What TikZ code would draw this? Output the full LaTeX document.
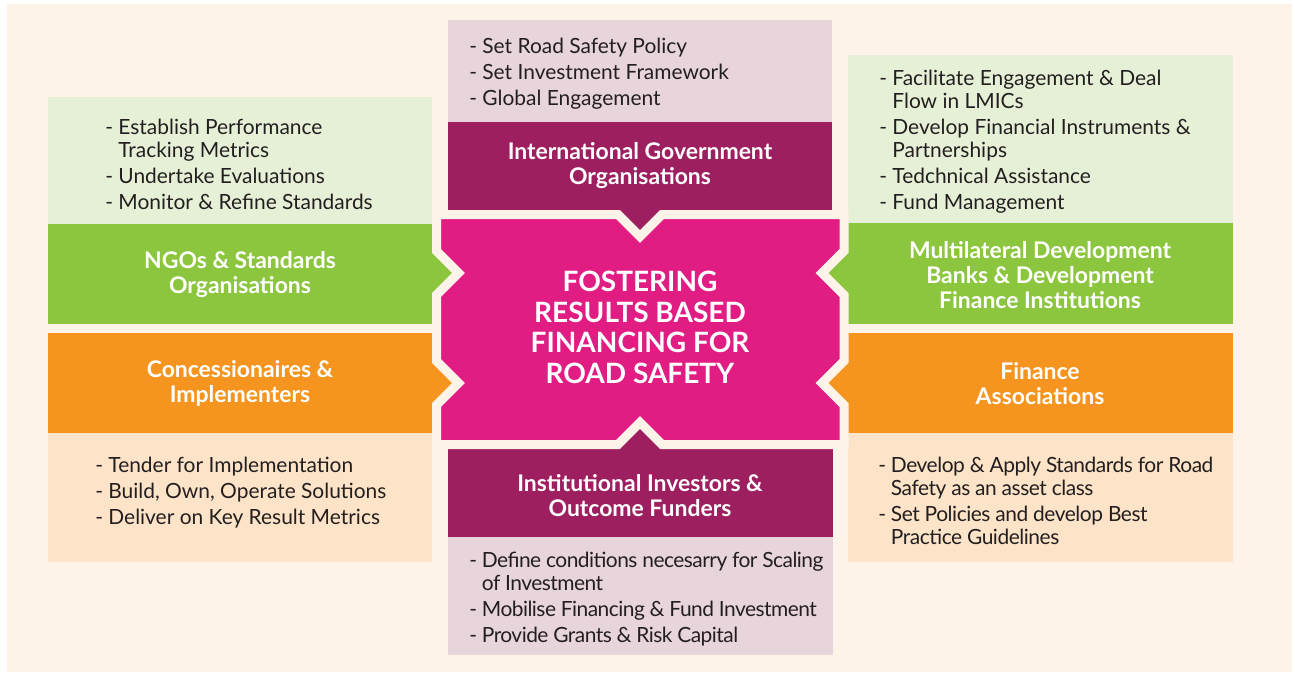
\documentclass[tikz,border=0pt]{standalone}
\usepackage{fontspec}
\setmainfont{Lato}
\definecolor{cream}{HTML}{FEF3E9}
\definecolor{magentaC}{HTML}{E11D84}
\definecolor{dpurple}{HTML}{9E1F60}
\definecolor{lpurple}{HTML}{E8D5DC}
\definecolor{greenC}{HTML}{8CC63F}
\definecolor{lgreen}{HTML}{E6F0D7}
\definecolor{orangeC}{HTML}{F5951F}
\definecolor{lorange}{HTML}{FDE3C7}
\definecolor{txt}{HTML}{231F20}
\newcommand\contind{\hphantom{- }}
\begin{document}
\begin{tikzpicture}[x=0.75pt,y=-0.75pt,
  lst/.style={font=\fontsize{15.7}{17.25}\selectfont, text=txt, align=left, inner sep=0pt, anchor=base west},
  tightA/.style={font=\fontsize{15.7}{17.25}\selectfont\addfontfeature{LetterSpace=-2.5}},
  tightB/.style={font=\fontsize{15.7}{17.25}\selectfont\addfontfeature{LetterSpace=-2.2}},
  hd/.style={font=\bfseries\fontsize{17.2}{18.75}\selectfont, text=white, align=center, inner sep=0pt},
  ctr/.style={font=\bfseries\fontsize{21}{22.9}\selectfont, text=white, align=center, inner sep=0pt}]
\useasboundingbox (0,0) rectangle (1295,672);
\fill[white] (0,0) rectangle (1295,672);
\fill[cream] (7,4) rectangle (1292,672);
% top block
\fill[lpurple] (448,20) rectangle (832,122);
\fill[dpurple] (448,122) rectangle (832,210);
\fill[dpurple] (611.5,208) -- (640,236.5) -- (668.5,208) -- cycle;
% bottom block
\fill[dpurple] (448,448) rectangle (833,537);
\fill[lpurple] (448,537) rectangle (833,655);
\fill[dpurple] (611.5,451) -- (640,422.5) -- (668.5,451) -- cycle;
% left blocks
\fill[lgreen] (48,97) rectangle (432,224);
\fill[greenC] (48,224) rectangle (432,324);
\fill[greenC] (430,244.5) -- (458.5,273) -- (430,301.5) -- cycle;
\fill[orangeC] (48,333) rectangle (432,433);
\fill[orangeC] (430,354.5) -- (458.5,383) -- (430,411.5) -- cycle;
\fill[lorange] (48,433) rectangle (432,562);
% right blocks
\fill[lgreen] (848,55) rectangle (1233,223);
\fill[greenC] (848,223) rectangle (1233,324);
\fill[greenC] (850,245) -- (822,273) -- (850,301) -- cycle;
\fill[orangeC] (848,333) rectangle (1233,433);
\fill[orangeC] (850,355) -- (822,383) -- (850,411) -- cycle;
\fill[lorange] (848,433) rectangle (1233,562);
% centre shape
\filldraw[fill=magentaC, draw=cream, line width=6.75pt, line join=miter]
  (436.5,214.5) -- (618,214.5) -- (640,236.5) -- (662,214.5) -- (844,214.5)
  -- (844,251) -- (822,273) -- (844,295) -- (844,361) -- (822,383) -- (844,405)
  -- (844,444.5) -- (662,444.5) -- (640,422.5) -- (618,444.5) -- (436.5,444.5)
  -- (436.5,405) -- (458.5,383) -- (436.5,361) -- (436.5,295) -- (458.5,273)
  -- (436.5,251) -- cycle;
% texts
\node[ctr] (centre) at (640,327.5) {FOSTERING\\RESULTS BASED\\FINANCING FOR\\ROAD SAFETY};
\node[hd] (intl) at (640,166) {International Government\\Organisations};
\node[hd] (ngo) at (240,274.5) {NGOs \& Standards\\Organisations};
\node[hd] (conc) at (240,383.5) {Concessionaires \&\\Implementers};
\node[hd] (mdb) at (1040,275) {Multilateral Development\\Banks \& Development\\Finance Institutions};
\node[hd] (fin) at (1040,383.5) {Finance\\Associations};
\node[hd] (inst) at (640,495.5) {Institutional Investors \&\\Outcome Funders};
\node[lst] (intlL) at (469,105) {- Set Road Safety Policy\\[2.25pt]- Set Investment Framework\\[2.25pt]- Global Engagement};
\node[lst] (ngoL) at (105,209) {- Establish Performance\\\contind Tracking Metrics\\[2.25pt]- Undertake Evaluations\\[2.25pt]- Monitor \& Refine Standards};
\node[lst] (concL) at (95,524) {- Tender for Implementation\\[2.25pt]- Build, Own, Operate Solutions\\[2.25pt]- Deliver on Key Result Metrics};
\node[lst] (mdbL) at (879,209) {- Facilitate Engagement \& Deal\\\contind Flow in LMICs\\[2.25pt]- Develop Financial Instruments \&\\\contind Partnerships\\[2.25pt]- Tedchnical Assistance\\[2.25pt]- Fund Management};
\node[lst, tightB] (finL) at (878,544) {- Develop \& Apply Standards for Road\\\contind Safety as an asset class\\[2.25pt]- Set Policies and develop Best\\\contind Practice Guidelines};
\node[lst, tightA] (instL) at (469,642) {- Define conditions necesarry for Scaling\\\contind of Investment\\[2.25pt]- Mobilise Financing \& Fund Investment\\[2.25pt]- Provide Grants \& Risk Capital};
\end{tikzpicture}
\end{document}
